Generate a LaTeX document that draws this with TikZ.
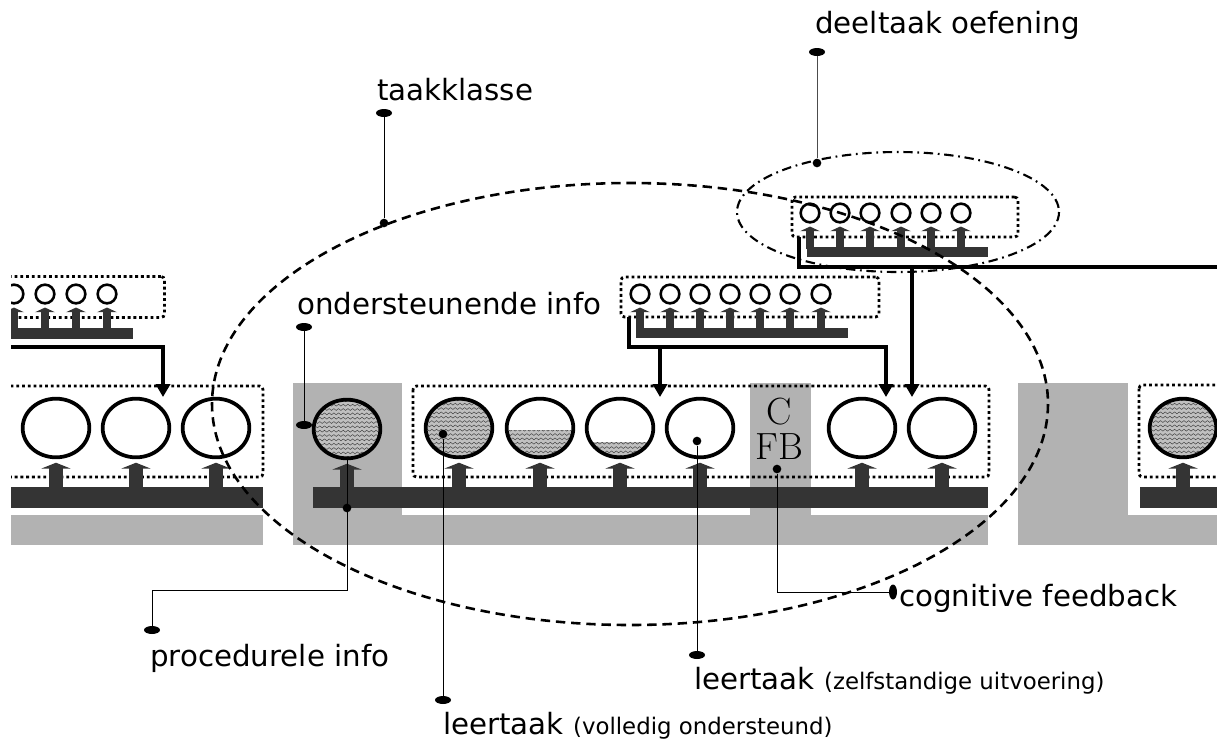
\documentclass[tikz,border=0pt]{standalone}
\usepackage{fontspec}
\usepackage{xcolor}
\newfontfamily\labelfont{DejaVu Sans}
\usetikzlibrary{shapes.geometric, arrows.meta, positioning, calc, decorations.pathmorphing}

\definecolor{bardark}{RGB}{52,52,52}
\definecolor{blockgray}{RGB}{178,178,178}
\definecolor{wavegray}{RGB}{192,192,192}

\newcommand{\biglabel}{\labelfont\fontsize{25}{30}\selectfont}
\newcommand{\smalllabel}{\labelfont\fontsize{19.5}{23}\selectfont}

\begin{document}
\begin{tikzpicture}[
   x=0.03cm, y=-0.03cm,
   task/.style = {draw, fill=white, ellipse, line width=3.2pt, minimum width=2cm, minimum height=1.76cm, inner sep=0pt},
   part/.style = {draw, fill=white, circle, line width=2.2pt, minimum size=0.56cm, inner sep=0pt},
   wave/.style = {draw=black!75, line width=0.4pt, decorate, decoration={snake, amplitude=0.8pt, segment length=4pt}},
   wavy/.style = {path picture={
      \begin{scope}
      \clip ($(path picture bounding box.north west)!#1!(path picture bounding box.south west)$) rectangle (path picture bounding box.south east);
      \fill[wavegray] (path picture bounding box.north west) rectangle (path picture bounding box.south east);
      \foreach \k in {0,...,14}
        \draw[wave] ([yshift=-\k*3.7pt-1pt]path picture bounding box.north west) -- ([yshift=-\k*3.7pt-1pt]path picture bounding box.north east);
      \end{scope}}},
   dotbox/.style = {draw, rounded corners=3pt, line width=2.4pt, dash pattern=on 2.4pt off 2.5pt},
   lift/.style = {draw=bardark, line width=12pt, shorten >=3pt, -{Triangle[width=25pt, length=5pt]}},
   sublift/.style = {draw=bardark, line width=7.5pt, shorten >=2.5pt, -{Triangle[width=17pt, length=4pt]}},
   feed/.style = {draw, line width=3.4pt, -{Triangle[width=12pt, length=11pt]}},
   pin/.style = {draw, line width=0.8pt},
   bigdot/.style = {fill, ellipse, minimum width=0.48cm, minimum height=0.24cm, inner sep=0pt},
   smalldot/.style = {fill, circle, minimum size=0.26cm, inner sep=0pt},
   classline/.style = {line width=2.2pt, dash pattern=on 8pt off 5pt},
   partline/.style = {line width=1.8pt, dash pattern=on 8pt off 4pt on 1.5pt off 4pt},
   lbl/.style = {anchor=base west, inner sep=0pt, font=\biglabel}
   ]
  \useasboundingbox (0,0) rectangle (1217,742);

  \begin{scope}
  \clip (11,0) rectangle (1230,742);

  % Gray supportive info blocks
  \fill[blockgray] (11,515) rectangle (263,545);
  \fill[blockgray] (293,383) rectangle (402,545);
  \fill[blockgray] (402,515) rectangle (988,545);
  \fill[blockgray] (750,383) rectangle (811,545);
  \fill[blockgray] (1018,383) rectangle (1128,545);
  \fill[blockgray] (1128,515) rectangle (1230,545);

  % Dotted task class boxes
  \draw[dotbox] (-20,386) rectangle (263,477);
  \draw[dotbox] (413,386) rectangle (989,477);
  \draw[dotbox] (1139,385) rectangle (1250,477);

  % Procedural info bars
  \fill[bardark] (11,487) rectangle (263,508);
  \fill[bardark] (313,487) rectangle (988,508);
  \fill[bardark] (1140,487) rectangle (1230,508);
  \coordinate (barL) at (0,490);

  % CFB
  \node[font=\fontsize{24.88}{23}\selectfont, scale=1.3, align=center, inner sep=0pt] (cfb) at (779,429) {C\\FB};

  % Learning tasks
  \foreach \n/\x in {l1/56, l2/136, l3/216}
    \node[task] (\n) at (\x,428) {};
  \node[task, wavy=0] (osc) at (347,429) {};
  \node[task, wavy=0] (m1) at (459,428) {};
  \node[task, wavy=0.55] (m2) at (540,428) {};
  \node[task, wavy=0.75] (m3) at (620,428) {};
  \node[task] (m4) at (700,428) {};
  \node[task] (m5) at (862,428) {};
  \node[task] (m6) at (942,428) {};
  \node[task, wavy=0] (r1) at (1183,428) {};
  \foreach \n in {l1,l2,l3,osc,m1,m2,m3,m4,m5,m6,r1}
    \draw[lift] (\n.south |- barL) -- (\n.south);

  % Part-task practice boxes
  \node[dotbox, minimum width=5.55cm, minimum height=1.23cm] (subL) at (72,297) {};
  \node[dotbox, minimum width=7.74cm, minimum height=1.2cm] (subM) at (750,297) {};
  \node[dotbox, minimum width=6.78cm, minimum height=1.2cm] (subT) at (905,217) {};
  \fill[bardark] (11,328) rectangle (133,339);
  \fill[bardark] (636,328) rectangle (848,338);
  \fill[bardark] (807,247) rectangle (988,257);
  \coordinate (subbar) at (0,331);
  \coordinate (topbar) at (0,249);
  \foreach \i/\x in {1/14, 2/45, 3/76, 4/107} {
    \node[part] (sl\i) at (\x,294) {};
    \draw[sublift] (sl\i.south |- subbar) -- (sl\i.south);
  }
  \foreach \i/\x in {1/640, 2/670, 3/700, 4/730, 5/760, 6/790, 7/821} {
    \node[part] (sm\i) at (\x,294) {};
    \draw[sublift] (sm\i.south |- subbar) -- (sm\i.south);
  }
  \foreach \i/\x in {1/810, 2/840, 3/870, 4/901, 5/931, 6/961} {
    \node[part] (st\i) at (\x,213) {};
    \draw[sublift] (st\i.south |- topbar) -- (st\i.south);
  }

  % Part-task feeds into the tasks
  \coordinate (inL) at (11,347);
  \coordinate (tipL) at (163,397);
  \draw[feed] (inL) -| (tipL);
  \coordinate (mstart) at (629,317);
  \coordinate (mbus) at (629,347);
  \coordinate (tipM1) at (660,397);
  \coordinate (tipM2) at (886,397);
  \draw[feed] (mstart) -- (mbus) -| (tipM2);
  \draw[feed] (tipM1 |- mbus) -- (tipM1);
  \coordinate (tstart) at (799,237);
  \coordinate (tout) at (1230,267);
  \coordinate (tipT) at (912,397);
  \draw[line width=3.4pt] (tstart) |- (tout);
  \draw[feed] (tipT |- tout) -- (tipT);

  % Task class and part-task ellipses
  \draw[classline] (630,404) ellipse [x radius=418, y radius=221];
  \draw[partline] (898,212) ellipse [x radius=161, y radius=60];
  \end{scope}

  % Pointers
  \node[bigdot] (kd1) at (384,113) {};
  \node[smalldot] (kd2) at (384,223) {};
  \draw[pin] (kd1) -- (kd2);
  \node[bigdot] (dd1) at (817,52) {};
  \node[smalldot] (dd2) at (817,163) {};
  \draw[pin, draw=black!70] (dd1) -- (dd2);
  \node[bigdot] (od1) at (304,327) {};
  \node[bigdot] (od2) at (304,425) {};
  \draw[pin] (od1) -- (od2);
  \node[smalldot] (pd1) at (347,508) {};
  \node[bigdot] (pd2) at (152,630) {};
  \coordinate (pknee) at (152,590);
  \draw[pin] (osc.south) |- (pknee) -- (pd2);
  \node[smalldot] (ld1) at (443,434) {};
  \node[bigdot] (ld2) at (443,700) {};
  \draw[pin] (ld1) -- (ld2);
  \node[smalldot] (zd1) at (697,441) {};
  \node[bigdot] (zd2) at (697,655) {};
  \draw[pin] (zd1) -- (zd2);
  \node[smalldot] (cd1) at (777,469) {};
  \node[bigdot, minimum width=0.24cm, minimum height=0.45cm] (cd2) at (893,592) {};
  \draw[pin] (cd1) |- (cd2);

  % Labels
  \node[lbl] (taakklasse) at (377,100) {taakklasse};
  \node[lbl] (deeltaak) at (815,33) {deeltaak oefening};
  \node[lbl] (ondersteunend) at (297,314) {ondersteunende info};
  \node[lbl] (procedureel) at (150,666) {procedurele info};
  \node[lbl] (volledig) at (443,734) {leertaak {\smalllabel(volledig ondersteund)}};
  \node[lbl] (zelfstandig) at (694,689) {leertaak {\smalllabel(zelfstandige uitvoering)}};
  \node[lbl] (feedback) at (899,606) {cognitive feedback};
\end{tikzpicture}
\end{document}
